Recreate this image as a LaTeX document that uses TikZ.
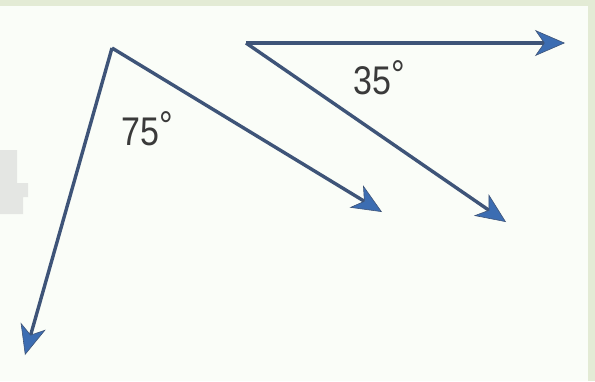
\documentclass[tikz,border=0pt]{standalone}
\usepackage{fontspec}
\setmainfont{Liberation Sans}
\usetikzlibrary{arrows.meta}
\definecolor{bgc}{HTML}{FAFDF8}
\definecolor{framec}{HTML}{E3EBD5}
\definecolor{linec}{HTML}{3E5478}
\definecolor{tipc}{HTML}{3C6DB2}
\definecolor{ghost}{HTML}{E4E6E3}
\definecolor{txtc}{HTML}{3A3A3A}
\newcommand{\degsym}{\hspace{1pt}\raisebox{6pt}{°}}
\tikzset{
  ray/.style={draw=linec, line width=3.4pt,
    -{Stealth[length=30pt, width=26pt, inset=9pt, fill=tipc, line width=0.6pt]}},
  lbl/.style={font=\fontsize{40}{40}\selectfont, text=txtc, inner sep=0pt, anchor=base west, xscale=0.85}
}
\begin{document}
\begin{tikzpicture}[x=1pt,y=-1pt]
\useasboundingbox (0,0) rectangle (595,381);
\fill[bgc] (0,0) rectangle (595,381);
\fill[framec] (0,0) rectangle (595,6);
\fill[framec] (588,0) rectangle (595,381);
\fill[ghost] (0,150) -- (17,150) -- (17,183) -- (28,183) -- (28,197) -- (23,197) -- (23,214) -- (0,214) -- cycle;
\coordinate (vA) at (112,48);
\coordinate (tA1) at (382,212);
\coordinate (tA2) at (25,355);
\coordinate (vB) at (246,43);
\coordinate (tB1) at (565,43);
\coordinate (tB2) at (506,222);
\draw[ray] (vA) -- (tA1);
\draw[ray] (vA) -- (tA2);
\draw[ray] (vB) -- (tB1);
\draw[ray] (vB) -- (tB2);
\node[lbl] (l75) at (121,145) {75\degsym};
\node[lbl] (l35) at (353,94) {35\degsym};
\end{tikzpicture}
\end{document}
